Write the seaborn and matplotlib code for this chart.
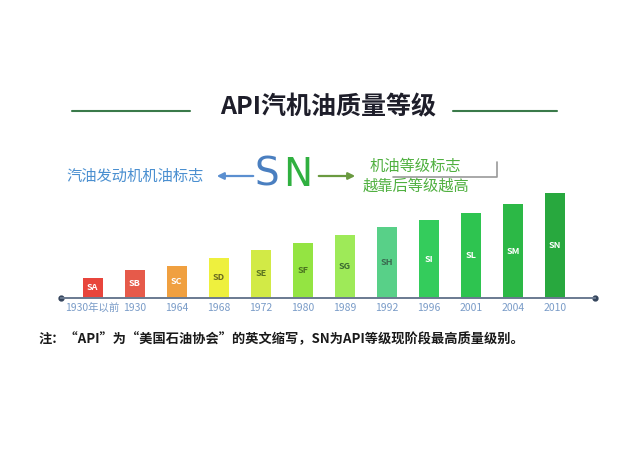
import matplotlib
matplotlib.use('Agg')
import matplotlib.pyplot as plt
import seaborn as sns

# API grades and the year each one came in
grades = ['SA', 'SB', 'SC', 'SD', 'SE', 'SF', 'SG', 'SH', 'SI', 'SL', 'SM', 'SN']
years = ['1930年以前', '1930', '1964', '1968', '1972', '1980', '1989', '1992',
         '1996', '2001', '2004', '2010']
# bar heights (arbitrary level units)
heights = [20, 28, 32, 40, 48, 55, 63, 71, 78, 85, 94, 105]
bar_colors = ['#e8453c', '#e65a4a', '#f0a040', '#eef03e', '#d2ea46', '#94e442',
              '#9eea58', '#58d088', '#34cc5c', '#2ec450', '#2cb846', '#28a83e']
label_colors = ['white', 'white', 'white', '#6a6a20', '#5a7420', '#4a7420',
                '#3a6a30', '#3a6a50', 'white', 'white', 'white', 'white']

sns.set_style('white')
plt.rcParams['font.family'] = ['Noto Sans CJK SC', 'DejaVu Sans']

W, H = 629, 472
fig = plt.figure(figsize=(W / 100, H / 100), dpi=100)
fig.patch.set_facecolor('white')

def fx(px):
    return px / W

def fy(py):
    return 1 - py / H

# bar axes
ax = fig.add_axes([fx(61), fy(298), fx(595) - fx(61), fy(150) - fy(298)])
sns.barplot(x=years, y=heights, hue=years, order=years, hue_order=years,
            palette=bar_colors, legend=False, width=0.48, saturation=1,
            linewidth=0, ax=ax)
ax.set_xlim(-0.753, 11.95)
ax.set_ylim(0, 148)
ax.set_facecolor('none')
for s in ['top', 'right', 'left']:
    ax.spines[s].set_visible(False)
ax.spines['bottom'].set_color('#6a7a90')
ax.spines['bottom'].set_linewidth(1.4)
ax.set_yticks([])
ax.set_xticks(range(len(years)))
ax.set_xticklabels(years, fontsize=7.5, color='#7a9cc8')
ax.tick_params(axis='x', length=0, pad=3.5)
ax.set_xlabel('')
ax.set_ylabel('')
ax.plot([0, 1], [0, 0], 'o', color='#34445c', markersize=3.5,
        transform=ax.transAxes, clip_on=False)

# grade name inside each bar
patches = sorted(ax.patches, key=lambda p: p.get_x())
for p, g, c in zip(patches, grades, label_colors):
    ax.text(p.get_x() + p.get_width() / 2, p.get_height() / 2, g,
            ha='center', va='center', fontsize=6.5, color=c, fontweight='bold')

# title with side lines
fig.text(fx(328), fy(107), 'API汽机油质量等级', ha='center', va='center',
         fontsize=18, fontweight='bold', color='#1e1e2a')
fig.add_artist(plt.Line2D([fx(72), fx(190)], [fy(111), fy(111)],
                          color='#3a7a4a', lw=1.5))
fig.add_artist(plt.Line2D([fx(453), fx(557)], [fy(111), fy(111)],
                          color='#3a7a4a', lw=1.5))

# SN explanation row
fig.text(fx(66), fy(176), '汽油发动机机油标志', ha='left', va='center',
         fontsize=11, color='#4a8fd0')
fig.text(fx(279), fy(175), 'S', ha='right', va='center', fontsize=28,
         color='#4a7fc0', family='DejaVu Sans')
fig.text(fx(283), fy(175), 'N', ha='left', va='center', fontsize=28,
         color='#30b040', family='DejaVu Sans')
fig.add_artist(matplotlib.patches.FancyArrowPatch(
    (fx(256), fy(176)), (fx(214), fy(176)), transform=fig.transFigure,
    arrowstyle='-|>', mutation_scale=10, color='#5b8fd0', lw=1.6))
fig.add_artist(matplotlib.patches.FancyArrowPatch(
    (fx(316), fy(176)), (fx(358), fy(176)), transform=fig.transFigure,
    arrowstyle='-|>', mutation_scale=10, color='#6a9a40', lw=1.6))
fig.text(fx(415), fy(166), '机油等级标志', ha='center', va='center',
         fontsize=11, color='#50b040')
fig.text(fx(416), fy(186), '越靠后等级越高', ha='center', va='center',
         fontsize=11, color='#50b040')
fig.add_artist(plt.Line2D([fx(393), fx(497), fx(497)],
                          [fy(177), fy(177), fy(162)],
                          color='#9a9a9a', lw=1.2))

# footnote
fig.text(fx(38), fy(339), '注：“API”为“美国石油协会”的英文缩写，SN为API等级现阶段最高质量级别。',
         ha='left', va='center', fontsize=9.5, fontweight='bold', color='#1a1a1a')

fig.savefig('out.png', dpi=100)
